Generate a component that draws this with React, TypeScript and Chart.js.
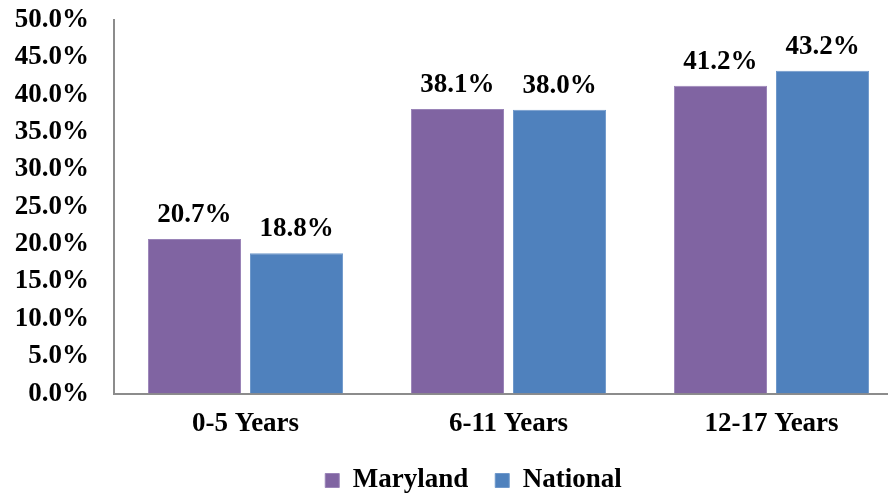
import React, { useEffect, useRef } from "react";
import { Chart, registerables } from "chart.js";

Chart.register(...registerables);

const categories = ["0-5 Years", "6-11 Years", "12-17 Years"];
const marylandValues = [20.7, 38.1, 41.2];
const nationalValues = [18.8, 38.0, 43.2];
const seriesNames = ["Maryland", "National"];
const yTicks = [0, 5, 10, 15, 20, 25, 30, 35, 40, 45, 50];

const FONT_FAMILY = "'Liberation Serif', 'Times New Roman', serif";
const FONT_SIZE = 27;

const valueLabelPlugin = {
  id: "valueLabels",
  afterDatasetsDraw(chart: any) {
    const ctx = chart.ctx;
    ctx.save();
    ctx.font = `bold ${FONT_SIZE}px ${FONT_FAMILY}`;
    ctx.fillStyle = "#000";
    ctx.textAlign = "center";
    ctx.textBaseline = "alphabetic";
    chart.data.datasets.forEach((ds: any, i: number) => {
      const meta = chart.getDatasetMeta(i);
      meta.data.forEach((bar: any, j: number) => {
        const v = ds.data[j];
        ctx.fillText(v.toFixed(1) + "%", bar.x, bar.y - 17);
      });
    });
    ctx.restore();
  },
};

const legendShiftPlugin = {
  id: "legendShift",
  afterLayout(chart: any) {
    const lg = chart.legend;
    if (!lg) return;
    const dx = 22;
    const dy = -14;
    lg.left += dx;
    lg.right += dx;
    lg.top += dy;
    lg.bottom += dy;
  },
};

export default function App() {
  const ref = useRef<HTMLCanvasElement>(null);
  useEffect(() => {
    document.body.style.margin = "0";
    const canvas = ref.current!;
    const chart = new Chart(canvas, {
      type: "bar",
      data: {
        labels: categories,
        datasets: [
          {
            label: seriesNames[0],
            data: marylandValues,
            backgroundColor: "#8064A2",
            borderColor: "#9a84b8",
            borderWidth: 1,
            categoryPercentage: 0.776,
            barPercentage: 0.912,
          },
          {
            label: seriesNames[1],
            data: nationalValues,
            backgroundColor: "#4F81BD",
            borderColor: "#6f98cb",
            borderWidth: 1,
            categoryPercentage: 0.776,
            barPercentage: 0.912,
          },
        ],
      },
      options: {
        responsive: false,
        animation: false,
        layout: { padding: { left: 0, right: 7, top: 0, bottom: 0 } },
        plugins: {
          legend: {
            position: "bottom",
            labels: {
              boxWidth: 14,
              boxHeight: 14,
              padding: 27,
              color: "#000",
              font: { family: FONT_FAMILY, size: FONT_SIZE, weight: "bold" },
            },
          },
          tooltip: { enabled: false },
        },
        scales: {
          x: {
            grid: { display: false, drawTicks: false },
            border: { display: true, color: "#8c8c8c", width: 2 },
            ticks: {
              color: "#000",
              padding: 14,
              font: { family: FONT_FAMILY, size: FONT_SIZE, weight: "bold" },
            },
          },
          y: {
            min: yTicks[0],
            max: yTicks[yTicks.length - 1],
            afterFit(scale: any) {
              scale.width = 114;
              scale.paddingTop = 20;
              scale.paddingBottom = 0;
            },
            afterBuildTicks(scale: any) {
              scale.ticks = yTicks.map((v) => ({ value: v }));
            },
            grid: { display: false, drawTicks: false },
            border: { display: true, color: "#8c8c8c", width: 2 },
            ticks: {
              autoSkip: false,
              color: "#000",
              padding: 25,
              font: { family: FONT_FAMILY, size: FONT_SIZE, weight: "bold" },
              callback: (v: any) => Number(v).toFixed(1) + "%",
            },
          },
        },
      },
      plugins: [valueLabelPlugin, legendShiftPlugin],
    });
    return () => chart.destroy();
  }, []);
  return (
    <div style={{ width: 888, height: 494, overflow: "hidden", background: "#fff" }}>
      <canvas ref={ref} width={910} height={518} style={{ display: "block" }} />
    </div>
  );
}
